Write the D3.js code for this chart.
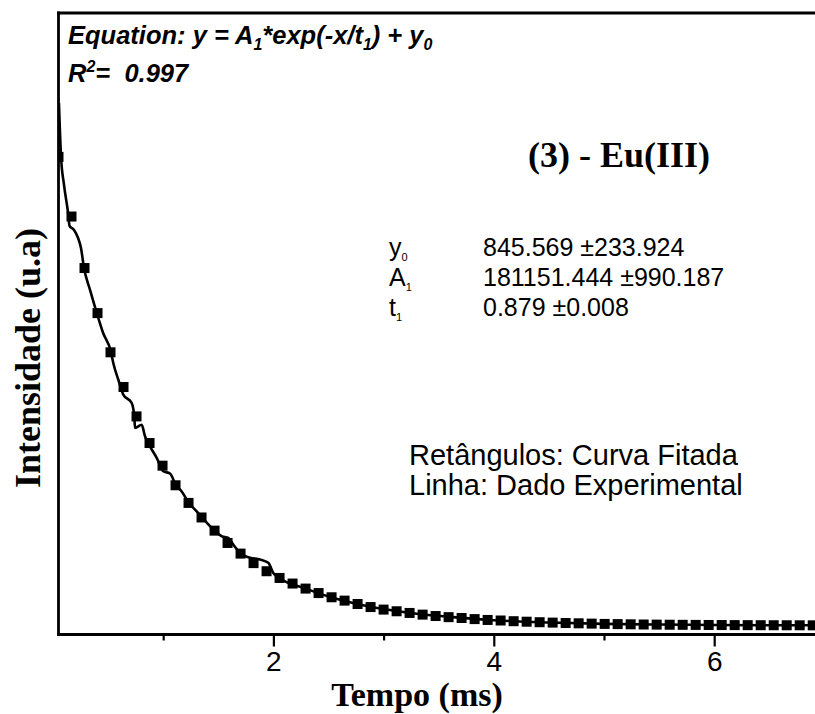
<!DOCTYPE html>
<html>
<head>
<meta charset="utf-8">
<script src="https://cdn.jsdelivr.net/npm/d3@7"></script>
<style>
  html, body { margin: 0; padding: 0; background: #fff; }
  svg { display: block; }
</style>
</head>
<body>
<svg id="chart" width="815" height="714"></svg>
<script>
// Fitted decay curve (square markers): sample times (ms) and intensities
const fitTimes = [0.05, 0.168, 0.286, 0.404, 0.522, 0.64, 0.758, 0.876, 0.994, 1.112,
  1.23, 1.348, 1.466, 1.584, 1.702, 1.82, 1.938, 2.056, 2.174, 2.292,
  2.41, 2.528, 2.646, 2.764, 2.882, 3.0, 3.118, 3.236, 3.354, 3.472,
  3.59, 3.708, 3.826, 3.944, 4.062, 4.18, 4.298, 4.416, 4.534, 4.652,
  4.77, 4.888, 5.006, 5.124, 5.242, 5.36, 5.478, 5.596, 5.714, 5.832,
  5.95, 6.068, 6.186, 6.304, 6.422, 6.54, 6.658, 6.776, 6.894];
const fitValues = [170600, 149300, 130900, 114800, 100800, 88400, 77900, 68400, 60300, 53300,
  47000, 41800, 37100, 32700, 28900, 25500, 22600, 20200, 18200, 16400,
  14800, 13300, 12100, 10900, 9800, 8900, 8300, 7700, 7100, 6600,
  6200, 5900, 5500, 5200, 5000, 4750, 4570, 4390, 4250, 4100,
  4000, 3890, 3780, 3710, 3640, 3570, 3530, 3490, 3460, 3430,
  3400, 3380, 3360, 3340, 3320, 3310, 3300, 3290, 3280];

// Measured decay (solid line)
const expTimes = [0.054, 0.073, 0.1, 0.139, 0.15, 0.191, 0.227, 0.254, 0.281, 0.336,
  0.397, 0.454, 0.526, 0.547, 0.593, 0.638, 0.714, 0.738, 0.744, 0.805,
  0.835, 0.88, 0.941, 1.001, 1.062, 1.116, 1.168, 1.234, 1.304, 1.355,
  1.455, 1.531, 1.591, 1.636, 1.703, 1.788, 1.878, 1.954, 1.999, 2.054,
  2.3, 2.5, 2.75, 3.0, 3.3, 3.6, 4.0, 4.5, 5.0, 5.5, 6.0, 6.5, 7.0];
const expValues = [189900, 170600, 160600, 149900, 146000, 144500, 141700, 138100, 131000, 123100,
  114900, 107800, 101000, 97000, 91000, 85700, 82700, 77900, 73800, 74900,
  70800, 67200, 63100, 58300, 57500, 53300, 51100, 47000, 44000, 41700,
  37500, 35100, 34500, 32100, 28900, 27400, 26800, 25600, 22000, 20200,
  16300, 13600, 11000, 9100, 7400, 6300, 5100, 4300, 3800, 3550, 3400, 3320, 3280];

const majorTicks = [2, 4, 6];
const minorTicks = [1, 3, 5, 7];

const svg = d3.select("#chart");
const plotLeft = 58.5, plotTop = 13, plotBottom = 634.5, plotRight = 824.4;

const x = d3.scaleLinear().domain([0.05, 7.0]).range([plotLeft, plotRight]);
const y = d3.scaleLinear().domain([0, 222000]).range([plotBottom, plotTop]);

svg.append("defs").append("clipPath").attr("id", "plotClip")
  .append("rect").attr("x", plotLeft).attr("y", plotTop)
  .attr("width", plotRight - plotLeft + 20).attr("height", plotBottom - plotTop);

const plot = svg.append("g").attr("clip-path", "url(#plotClip)");

// measured line
plot.append("path")
  .datum(expTimes.map((t, i) => [t, expValues[i]]))
  .attr("fill", "none")
  .attr("stroke", "#000")
  .attr("stroke-width", 2.6)
  .attr("stroke-linejoin", "round")
  .attr("d", d3.line().x(d => x(d[0])).y(d => y(d[1])).curve(d3.curveMonotoneX));

// fitted markers
const sq = 10;
plot.selectAll("rect.fit")
  .data(fitTimes.map((t, i) => [t, fitValues[i]]))
  .join("rect")
  .attr("class", "fit")
  .attr("x", d => x(d[0]) - sq / 2)
  .attr("y", d => y(d[1]) - sq / 2)
  .attr("width", sq).attr("height", sq)
  .attr("fill", "#000");

// frame: left and top borders
svg.append("line").attr("x1", plotLeft).attr("x2", plotLeft).attr("y1", plotTop - 1.4).attr("y2", plotBottom)
  .attr("stroke", "#000").attr("stroke-width", 2.8);
svg.append("line").attr("x1", plotLeft - 1.4).attr("x2", 815).attr("y1", plotTop).attr("y2", plotTop)
  .attr("stroke", "#000").attr("stroke-width", 2.8);

// bottom axis
const axMajor = svg.append("g").attr("transform", `translate(0,${plotBottom})`)
  .call(d3.axisBottom(x).tickValues(majorTicks).tickFormat(d3.format("d"))
    .tickSize(12).tickSizeOuter(0).tickPadding(5));
const axMinor = svg.append("g").attr("transform", `translate(0,${plotBottom})`)
  .call(d3.axisBottom(x).tickValues(minorTicks).tickSize(6).tickSizeOuter(0).tickFormat(""));
[axMajor, axMinor].forEach(g => {
  g.select(".domain").remove();
  g.selectAll(".tick line").attr("stroke", "#000").attr("stroke-width", 2.2);
});
axMajor.selectAll(".tick text")
  .attr("font-family", "'Liberation Sans', Arial, sans-serif")
  .attr("font-size", 28).attr("fill", "#000");
svg.append("line").attr("x1", plotLeft - 1.4).attr("x2", 815).attr("y1", plotBottom).attr("y2", plotBottom)
  .attr("stroke", "#000").attr("stroke-width", 2.8);

// axis titles
svg.append("text")
  .attr("x", 417).attr("y", 706)
  .attr("text-anchor", "middle")
  .attr("font-family", "'Liberation Serif', 'Times New Roman', serif")
  .attr("font-weight", "bold").attr("font-size", 34)
  .text("Tempo (ms)");

svg.append("text")
  .attr("transform", "translate(40,358) rotate(-90)")
  .attr("text-anchor", "middle")
  .attr("font-family", "'Liberation Serif', 'Times New Roman', serif")
  .attr("font-weight", "bold").attr("font-size", 36)
  .text("Intensidade (u.a)");

// equation block
const sans = "'Liberation Sans', Arial, sans-serif";
const eq = svg.append("text").attr("x", 68).attr("y", 44)
  .attr("font-family", sans).attr("font-weight", "bold").attr("font-style", "italic")
  .attr("font-size", 25.5);
const eqParts = [["Equation: y = A", false], ["1", true], ["*exp(-x/t", false], ["1", true], [") + y", false], ["0", true]];
let shifted = false;
eqParts.forEach(([s, sub]) => {
  const dy = sub ? (shifted ? 0 : 6) : (shifted ? -6 : 0);
  shifted = sub;
  eq.append("tspan")
    .attr("font-size", sub ? 16 : 25.5)
    .attr("dy", dy)
    .text(s);
});
const r2 = svg.append("text").attr("x", 68).attr("y", 82)
  .attr("font-family", sans).attr("font-weight", "bold").attr("font-style", "italic")
  .attr("font-size", 25.5);
r2.append("tspan").text("R");
r2.append("tspan").attr("font-size", 16).attr("dy", -10).text("2");
r2.append("tspan").attr("dy", 10).attr("xml:space", "preserve").text("=\u00a0 0.997");

// sample title
svg.append("text")
  .attr("x", 528).attr("y", 167)
  .attr("font-family", "'Liberation Serif', 'Times New Roman', serif")
  .attr("font-weight", "bold").attr("font-size", 36)
  .text("(3) - Eu(III)");

// parameter table
const paramNames = [["y", "0"], ["A", "1"], ["t", "1"]];
const paramValues = ["845.569 \u00b1233.924", "181151.444 \u00b1990.187", "0.879 \u00b10.008"];
const rowY = [256, 286, 316];
paramNames.forEach(([n, s], i) => {
  const t = svg.append("text").attr("x", 389).attr("y", rowY[i])
    .attr("font-family", sans).attr("font-size", 25);
  t.append("tspan").text(n);
  t.append("tspan").attr("font-size", 11).attr("dy", 5).text(s);
  svg.append("text").attr("x", 483).attr("y", rowY[i])
    .attr("font-family", sans).attr("font-size", 25)
    .text(paramValues[i]);
});

// legend notes
const notes = ["Ret\u00e2ngulos: Curva Fitada", "Linha: Dado Experimental"];
notes.forEach((s, i) => {
  svg.append("text").attr("x", 409).attr("y", 465 + i * 30)
    .attr("font-family", sans).attr("font-size", 29)
    .text(s);
});
</script>
</body>
</html>
